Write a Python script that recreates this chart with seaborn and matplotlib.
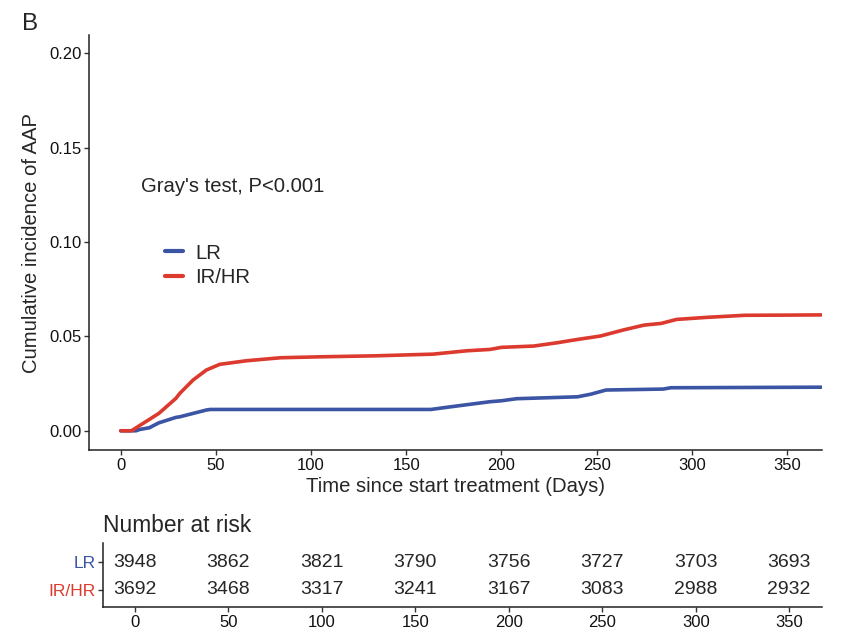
import seaborn as sns
import matplotlib.pyplot as plt
import pandas as pd

# curve values (days, cumulative incidence)
LR_DAYS = [0, 8, 10, 15, 20, 29, 31, 38, 45, 47, 100, 163, 171, 184, 194, 200, 208,
           240, 247, 255, 285, 289, 341, 368]
LR_CIF = [0, 0, 0.0007, 0.0016, 0.0042, 0.0071, 0.0074, 0.0092, 0.011, 0.0113, 0.0113,
          0.0113, 0.0124, 0.0141, 0.0154, 0.0159, 0.0170, 0.0180, 0.0194, 0.0216, 0.0221,
          0.0228, 0.0230, 0.0231]

HR_DAYS = [0, 5.6, 20, 29, 31, 38, 45, 52, 66, 84, 105, 133, 164, 182, 194, 200, 217,
           229, 240, 252, 264, 275, 284, 292, 308, 328, 352, 368]
HR_CIF = [0, 0, 0.0092, 0.0172, 0.0198, 0.0269, 0.0322, 0.0352, 0.0371, 0.0387, 0.0392,
          0.0397, 0.0406, 0.0424, 0.0431, 0.0442, 0.0449, 0.0466, 0.0484, 0.0502, 0.0534,
          0.0560, 0.0569, 0.0590, 0.0601, 0.0612, 0.0613, 0.0614]

GROUPS = ['LR', 'IR/HR']
COLORS = {'LR': '#3B54A3', 'IR/HR': '#DC3A2E'}

RISK_TIMES = [0, 50, 100, 150, 200, 250, 300, 350]
RISK_LR = [3948, 3862, 3821, 3790, 3756, 3727, 3703, 3693]
RISK_HR = [3692, 3468, 3317, 3241, 3167, 3083, 2988, 2932]

X_TICKS = [0, 50, 100, 150, 200, 250, 300, 350]
Y_TICKS = [0.00, 0.05, 0.10, 0.15, 0.20]


def build_frame():
    lr = pd.DataFrame({'day': LR_DAYS, 'cif': LR_CIF, 'group': 'LR'})
    hr = pd.DataFrame({'day': HR_DAYS, 'cif': HR_CIF, 'group': 'IR/HR'})
    return pd.concat([lr, hr], ignore_index=True)


def style_axis(ax):
    for side in ['top', 'right']:
        ax.spines[side].set_visible(False)
    for side in ['left', 'bottom']:
        ax.spines[side].set_linewidth(1.1)
        ax.spines[side].set_color('#222222')
    ax.tick_params(axis='both', bottom=True, left=True, direction='out',
                   length=3.5, width=1.0, color='#333333',
                   labelsize=12, labelcolor='#111111', pad=2)


def main_plot(fig, data):
    ax = fig.add_axes([0.1043, 0.2868, 0.8593, 0.6577])
    sns.lineplot(data=data, x='day', y='cif', hue='group', hue_order=GROUPS,
                 palette=COLORS, estimator=None, linewidth=2.6, ax=ax)
    ax.set_xlim(-16.7, 368.4)
    ax.set_ylim(-0.0102, 0.2097)
    ax.set_xticks(X_TICKS)
    ax.set_yticks(Y_TICKS)
    ax.set_yticklabels([f'{v:.2f}' for v in Y_TICKS])
    ax.set_xlabel('Time since start treatment (Days)', fontsize=14.6, labelpad=3)
    ax.set_ylabel('Cumulative incidence of AAP', fontsize=14.6, labelpad=6)
    style_axis(ax)
    ax.text(10.7, 0.1296, "Gray's test, P<0.001", fontsize=14.6, va='center', ha='left')
    handles, labels = ax.get_legend_handles_labels()
    leg = ax.legend(handles, labels, loc='upper left', bbox_to_anchor=(0.1037, 0.4975),
                    frameon=False, fontsize=14.6, borderpad=0, borderaxespad=0,
                    handlelength=0.9, handletextpad=0.58, labelspacing=0.28)
    for line in leg.get_lines():
        line.set_linewidth(3)
    return ax


def risk_table(fig):
    ax = fig.add_axes([0.1208, 0.0376, 0.8429, 0.1024])
    ax.set_xlim(-17.1, 367.6)
    ax.set_ylim(0.375, 2.71)
    for t, n in zip(RISK_TIMES, RISK_LR):
        ax.text(t, 2, str(n), ha='center', va='center', fontsize=14)
    for t, n in zip(RISK_TIMES, RISK_HR):
        ax.text(t, 1, str(n), ha='center', va='center', fontsize=14)
    ax.set_xticks(RISK_TIMES)
    ax.set_yticks([2, 1])
    ax.set_yticklabels(['LR', 'IR/HR'])
    style_axis(ax)
    ax.tick_params(axis='y', labelsize=12.5)
    for lab, g in zip(ax.get_yticklabels(), ['LR', 'IR/HR']):
        lab.set_color(COLORS[g])
    ax.set_xlabel('')
    ax.set_ylabel('')
    ax.set_title('Number at risk', loc='left', fontsize=16.4, pad=8, x=0.0)
    return ax


if __name__ == '__main__':
    sns.set_style('white')
    plt.rcParams['font.family'] = ['Liberation Sans', 'DejaVu Sans']
    fig = plt.figure(figsize=(8.53, 6.31), dpi=100)
    main_plot(fig, build_frame())
    risk_table(fig)
    fig.text(22 / 853, 1 - 29.5 / 631, 'B', fontsize=17.5, ha='left', va='baseline')
    fig.savefig('out.png', dpi=100)
